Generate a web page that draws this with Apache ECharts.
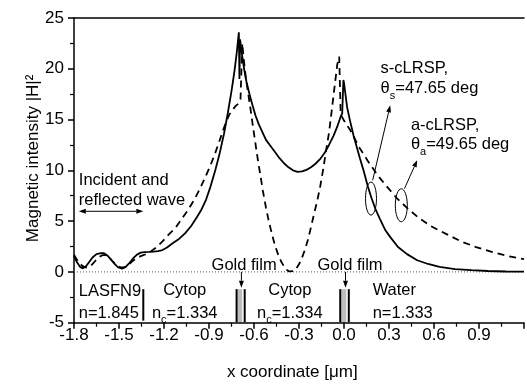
<!DOCTYPE html>
<html>
<head>
<meta charset="utf-8">
<script src="https://cdn.jsdelivr.net/npm/echarts@6/dist/echarts.min.js"></script>
<style>
html,body{margin:0;padding:0;background:#fff}
#chart{width:527px;height:384px}
</style>
</head>
<body>
<div id="chart"></div>
<script>
// |H|^2 profile across the LASFN9 / Cytop / gold / Cytop / gold / water stack
const FONT = '"Liberation Sans", Arial, sans-serif';

// s-cLRSP (solid)
const solidX = [-1.800,-1.780,-1.760,-1.741,-1.720,-1.700,-1.675,-1.650,-1.620,-1.600,-1.580,-1.555,-1.530,-1.505,-1.480,-1.455,-1.430,-1.405,-1.380,-1.355,-1.330,-1.300,-1.270,-1.240,-1.210,-1.180,-1.140,-1.100,-1.060,-1.020,-0.980,-0.950,-0.920,-0.890,-0.860,-0.830,-0.800,-0.775,-0.750,-0.730,-0.715,-0.701,-0.697,-0.693,-0.680,-0.665,-0.650,-0.630,-0.610,-0.590,-0.570,-0.545,-0.520,-0.490,-0.460,-0.430,-0.400,-0.370,-0.340,-0.310,-0.280,-0.250,-0.220,-0.190,-0.160,-0.130,-0.100,-0.070,-0.045,-0.022,-0.012,-0.004,0.000,0.021,0.040,0.064,0.085,0.106,0.130,0.159,0.185,0.212,0.240,0.276,0.310,0.360,0.420,0.488,0.560,0.637,0.740,0.849,0.960,1.080,1.200];
const solidY = [1.55,0.95,0.50,0.35,0.55,0.95,1.45,1.75,1.85,1.85,1.65,1.25,0.80,0.45,0.33,0.50,0.90,1.35,1.70,1.90,1.95,1.97,2.00,2.05,2.15,2.40,2.85,3.25,3.80,4.50,5.40,6.15,7.10,8.40,9.90,11.60,13.60,15.60,17.80,19.80,21.60,23.60,19.00,22.90,21.40,19.90,18.70,17.50,16.40,15.40,14.60,13.80,13.00,12.40,11.80,11.20,10.70,10.30,10.00,9.86,9.90,10.05,10.30,10.65,11.10,11.70,12.50,13.40,14.30,15.30,15.60,18.90,18.60,16.20,14.90,13.40,12.30,11.20,10.00,8.40,7.20,6.10,5.20,4.10,3.40,2.46,1.75,1.15,0.78,0.49,0.28,0.17,0.09,0.04,0.02];

// a-cLRSP (dashed)
const dashX = [-1.800,-1.785,-1.765,-1.745,-1.725,-1.705,-1.685,-1.660,-1.635,-1.610,-1.590,-1.565,-1.540,-1.515,-1.490,-1.465,-1.440,-1.415,-1.385,-1.355,-1.320,-1.290,-1.253,-1.210,-1.168,-1.125,-1.083,-1.040,-0.998,-0.960,-0.924,-0.890,-0.860,-0.830,-0.807,-0.785,-0.764,-0.740,-0.722,-0.701,-0.690,-0.678,-0.669,-0.655,-0.637,-0.620,-0.605,-0.590,-0.573,-0.555,-0.541,-0.520,-0.500,-0.480,-0.460,-0.440,-0.420,-0.400,-0.380,-0.365,-0.352,-0.335,-0.320,-0.300,-0.280,-0.260,-0.240,-0.220,-0.200,-0.180,-0.160,-0.140,-0.120,-0.100,-0.080,-0.060,-0.045,-0.032,-0.022,0.000,0.042,0.100,0.160,0.220,0.280,0.350,0.420,0.500,0.580,0.680,0.780,0.880,0.980,1.080,1.200];
const dashY = [1.70,1.30,0.90,0.60,0.45,0.45,0.65,1.05,1.45,1.65,1.65,1.40,1.00,0.65,0.45,0.45,0.65,1.00,1.35,1.55,1.75,2.00,2.40,3.00,3.70,4.30,5.20,6.10,7.10,8.20,9.35,10.50,11.65,12.90,13.90,14.80,15.50,16.00,16.35,16.60,17.00,22.50,21.00,19.20,17.40,15.70,14.10,12.60,10.90,9.30,8.00,6.30,4.90,3.70,2.60,1.75,1.05,0.55,0.20,0.05,0.00,0.08,0.30,0.75,1.40,2.20,3.20,4.40,5.70,6.90,8.30,10.00,11.90,13.70,16.10,18.60,20.40,21.20,15.50,14.90,13.95,12.30,10.90,9.60,8.50,7.30,6.30,5.30,4.50,3.75,3.00,2.45,2.00,1.60,1.25];

// zero reference line
const zeroX = [-1.8, 1.2];
const zeroY = [0, 0];

// axis ranges
const xRange = [-1.8, 1.2], xStep = 0.3;
const yRange = [-5, 25], yStep = 5;

// layer layout (µm)
const interfaceX = -1.338;
const goldFilms = [[-0.716, -0.662], [-0.025, 0.032]];
const goldArrowX = [-0.684, 0.010];

const zip = (xs, ys) => xs.map((x, i) => [x, ys[i]]);

const chart = echarts.init(document.getElementById('chart'), null, {renderer: 'canvas'});

chart.setOption({
  animation: false,
  backgroundColor: '#fff',
  grid: {left: 74, top: 18, right: -18.3, bottom: 61.3, containLabel: false},
  xAxis: [{
    type: 'value', min: xRange[0], max: xRange[1], interval: xStep,
    axisLine: {onZero: false, lineStyle: {color: '#000', width: 1.5}},
    axisTick: {inside: false, length: 6, lineStyle: {color: '#000', width: 1.5}},
    minorTick: {show: true, splitNumber: 2, length: 4, lineStyle: {color: '#000', width: 1.2}},
    axisLabel: {color: '#000', fontSize: 17, fontFamily: FONT, margin: 4,
      formatter: v => v > 1.0 ? '' : v.toFixed(1)},
    splitLine: {show: false}
  }, {
    type: 'value', position: 'top', min: xRange[0], max: xRange[1],
    axisLine: {onZero: false, lineStyle: {color: '#000', width: 1.5}},
    axisTick: {show: false}, axisLabel: {show: false}, splitLine: {show: false}
  }],
  yAxis: {
    type: 'value', min: yRange[0], max: yRange[1], interval: yStep,
    axisLine: {onZero: false, lineStyle: {color: '#000', width: 1.5}},
    axisTick: {inside: false, length: 6, lineStyle: {color: '#000', width: 1.5}},
    minorTick: {show: true, splitNumber: 2, length: 4, lineStyle: {color: '#000', width: 1.2}},
    axisLabel: {color: '#000', fontSize: 17, fontFamily: FONT, margin: 10},
    splitLine: {show: false}
  },
  series: [{
    type: 'line', data: zip(zeroX, zeroY), showSymbol: false, silent: true,
    lineStyle: {color: '#555', width: 1, type: [1, 2]}
  }, {
    name: 's-cLRSP', type: 'line', data: zip(solidX, solidY), showSymbol: false,
    lineStyle: {color: '#000', width: 1.8}
  }, {
    name: 'a-cLRSP', type: 'line', data: zip(dashX, dashY), showSymbol: false,
    lineStyle: {color: '#000', width: 1.8, type: [7, 5]}
  }]
});

// ---- annotations ----
const P = (x, y) => chart.convertToPixel({xAxisIndex: 0, yAxisIndex: 0}, [x, y]);
const mctx = document.createElement('canvas').getContext('2d');
const BASE = 16.5, SUB = 11;
function measure(t, size) { mctx.font = size + 'px ' + FONT; return mctx.measureText(t).width; }

function textEl(t, x, y, size, extra) {
  return Object.assign({
    type: 'text', x, y, silent: true,
    style: {text: t, font: size + 'px ' + FONT, fill: '#000',
      align: 'left', verticalAlign: 'middle', textAlign: 'left', textVerticalAlign: 'middle'}
  }, extra || {});
}
// parts: [text, isSubscript]
function run(parts, dx, dy, anchor) {
  const [px, py] = P(dx, dy);
  const widths = parts.map(p => measure(p[0], p[1] ? SUB : BASE));
  const total = widths.reduce((a, b) => a + b, 0);
  let x = anchor === 'center' ? px - total / 2 : px;
  const out = [];
  parts.forEach((p, i) => {
    out.push(textEl(p[0], x, p[1] ? py + 7 : py, p[1] ? SUB : BASE));
    x += widths[i];
  });
  return out;
}
function arrowEls(x1, y1, x2, y2, head, half) {
  const ang = Math.atan2(y2 - y1, x2 - x1);
  const bx = x2 - head * Math.cos(ang), by = y2 - head * Math.sin(ang);
  const nx = -Math.sin(ang) * half, ny = Math.cos(ang) * half;
  return [
    {type: 'line', silent: true, shape: {x1, y1, x2: bx, y2: by}, style: {stroke: '#000', lineWidth: 1}},
    {type: 'polygon', silent: true, shape: {points: [[x2, y2], [bx + nx, by + ny], [bx - nx, by - ny]]}, style: {fill: '#000'}}
  ];
}

const g = [];
// text labels
g.push(...run([['Incident and']], -1.768, 9.02));
g.push(...run([['reflected wave']], -1.768, 7.05));
g.push(...run([['LASFN9']], -1.768, -1.97));
g.push(...run([['n=1.845']], -1.768, -4.10));
g.push(...run([['Cytop']], -1.062, -1.83, 'center'));
g.push(...run([['n'], ['c', true], ['=1.334']], -1.062, -4.06, 'center'));
g.push(...run([['Cytop']], -0.361, -1.83, 'center'));
g.push(...run([['n'], ['c', true], ['=1.334']], -0.361, -4.06, 'center'));
g.push(...run([['Water']], 0.191, -1.83));
g.push(...run([['n=1.333']], 0.191, -4.06));
g.push(...run([['Gold film']], -0.666, 0.66, 'center'));
g.push(...run([['Gold film']], 0.040, 0.66, 'center'));
g.push(...run([['s-cLRSP,']], 0.244, 20.0));
g.push(...run([['\u03b8'], ['s', true], ['=47.65 deg']], 0.244, 18.05));
g.push(...run([['a-cLRSP,']], 0.446, 14.44));
g.push(...run([['\u03b8'], ['a', true], ['=49.65 deg']], 0.446, 12.54));

// incident / reflected double arrow
{
  const [l, y] = P(-1.768, 5.97), [r] = P(interfaceX, 5.97);
  const m = (l + r) / 2;
  g.push(...arrowEls(m, y, l, y, 7, 2.5), ...arrowEls(m, y, r, y, 7, 2.5));
}
// LASFN9 / Cytop interface
{
  const [x, y1] = P(interfaceX, -1.7), [, y2] = P(interfaceX, -4.8);
  g.push({type: 'line', silent: true, shape: {x1: x, y1, x2: x, y2}, style: {stroke: '#000', lineWidth: 2}});
}
// gold films
goldFilms.forEach(([a, b]) => {
  const [xa, yt] = P(a, -1.7), [xb, yb] = P(b, -4.95);
  g.push({type: 'rect', silent: true, shape: {x: xa + 1, y: yt, width: xb - xa - 3.5, height: yb - yt}, style: {fill: '#bdbdbd'}});
  g.push({type: 'line', silent: true, shape: {x1: xa, y1: yt, x2: xa, y2: yb}, style: {stroke: '#000', lineWidth: 2}});
  g.push({type: 'line', silent: true, shape: {x1: xb, y1: yt, x2: xb, y2: yb}, style: {stroke: '#000', lineWidth: 2}});
});
goldArrowX.forEach(x => {
  const [px, y1] = P(x, 0.0), [, y2] = P(x, -1.55);
  g.push(...arrowEls(px, y1, px, y2, 7, 2.5));
});
// mode markers
{
  const [cx, cy] = P(0.180, 7.22);
  g.push({type: 'ellipse', silent: true, shape: {cx, cy, rx: 5.5, ry: 16.5}, style: {fill: 'none', stroke: '#000', lineWidth: 1}});
  const [x1, y1] = P(0.191, 9.02), [x2, y2] = P(0.308, 16.4);
  g.push(...arrowEls(x1, y1, x2, y2, 7, 2.5));
}
{
  const [cx, cy] = P(0.382, 6.56);
  g.push({type: 'ellipse', silent: true, shape: {cx, cy, rx: 6, ry: 16.5}, style: {fill: 'none', stroke: '#000', lineWidth: 1}});
  const [x1, y1] = P(0.403, 8.2), [x2, y2] = P(0.488, 11.0);
  g.push(...arrowEls(x1, y1, x2, y2, 7, 2.5));
}
// axis titles
{
  const [, yTop] = P(0, yRange[1]), [, yBot] = P(0, yRange[0]);
  const [xl] = P(xRange[0], 0);
  g.push(textEl('Magnetic intensity |H|\u00b2', xl - 41, (yTop + yBot) / 2 - 12, 17,
    {rotation: Math.PI / 2, style: {text: 'Magnetic intensity |H|\u00b2', font: '17px ' + FONT, fill: '#000',
      align: 'center', verticalAlign: 'middle', textAlign: 'center', textVerticalAlign: 'middle'}}));
  const [xc] = P(-0.345, 0);
  g.push(textEl('x coordinate [\u03bcm]', xc, yBot + 50, 17,
    {style: {text: 'x coordinate [\u03bcm]', font: '17px ' + FONT, fill: '#000',
      align: 'center', verticalAlign: 'middle', textAlign: 'center', textVerticalAlign: 'middle'}}));
}

chart.setOption({graphic: {elements: g}});
</script>
</body>
</html>
